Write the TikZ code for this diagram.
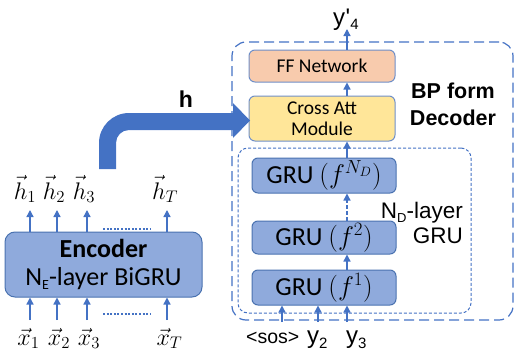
\documentclass[tikz,border=0pt]{standalone}
\usepackage{fix-cm}
\usepackage{fontspec}
\setmainfont{Carlito}
\newfontfamily\arial{Liberation Sans}
\usetikzlibrary{arrows.meta}
\definecolor{lineblue}{HTML}{4472C4}
\definecolor{grufill}{HTML}{8FAADC}
\definecolor{gruborder}{HTML}{4A72B0}
\definecolor{fffill}{HTML}{F8CBAD}
\definecolor{attfill}{HTML}{FFE699}
\definecolor{lightborder}{HTML}{6F8FC8}
\newcommand{\grulbl}[1]{GRU {\fontsize{27}{27}\selectfont$(f^{#1})$}}
\begin{document}
\begin{tikzpicture}[x=1pt,y=-1pt,
  arr/.style={draw=lineblue, line width=1.3pt, -{Triangle[length=7pt,width=7pt]}},
  grubox/.style={draw=gruborder, line width=1pt, fill=grufill, rounded corners=6pt,
     minimum width=144pt, minimum height=35pt, inner sep=0pt,
     font=\fontsize{26}{28}\selectfont},
  topbox/.style={draw=lightborder, line width=1pt, rounded corners=6pt,
     minimum width=146pt, inner sep=0pt, align=center,
     font=\fontsize{19.5}{21}\selectfont},
  mathlbl/.style={inner sep=0pt, font=\fontsize{24}{24}\selectfont},
  arlbl/.style={inner sep=0pt, font=\arial\fontsize{24}{24}\selectfont},
  dotline/.style={draw=lineblue, line width=1.6pt, dash pattern=on 2pt off 1.6pt}]
\useasboundingbox (0,0) rectangle (515,356);

% decoder frames
\node[draw=lineblue, line width=1.2pt, dash pattern=on 10pt off 5pt, rounded corners=14pt,
  minimum width=281pt, minimum height=278pt, inner sep=0pt] (dec) at (372.5,181) {};
\node[draw=lineblue, line width=1pt, dash pattern=on 3pt off 2pt, rounded corners=10pt,
  minimum width=233pt, minimum height=165pt, inner sep=0pt] (grufr) at (354.5,230.5) {};

% decoder boxes
\node[topbox, fill=fffill, minimum height=32pt] (ff) at (322,66) {FF Network};
\node[topbox, fill=attfill, minimum height=45pt] (att) at (322,118.5) {Cross Att\\Module};
\node[grubox] (gruN) at (324,175.5) {\grulbl{N_D}};
\node[grubox, minimum height=33pt] (gru2) at (324,237.5) {\grulbl{2}};
\node[grubox] (gru1) at (324,287.5) {\grulbl{1}};

% decoder texts
\node[align=center, inner sep=0pt, font=\arial\bfseries\fontsize{21.5}{27}\selectfont] (bp) at (453,104) {BP form\\Decoder};
\node[align=right, anchor=east, inner sep=0pt, font=\arial\fontsize{22.5}{25}\selectfont] (ndl) at (463,223)
  {N\raisebox{-4pt}{\fontsize{13}{13}\selectfont D}-layer\\GRU};
\node[arlbl, anchor=base west] (yout) at (333,25) {y\kern0.5pt'\raisebox{-5pt}{\fontsize{15}{15}\selectfont 4}};
\node[inner sep=0pt, anchor=base west, font=\arial\fontsize{19.5}{19.5}\selectfont] (sos) at (246,343) {<sos>};
\node[arlbl, anchor=base west] (y2) at (307,343) {y\raisebox{-5pt}{\fontsize{15}{15}\selectfont 2}};
\node[arlbl, anchor=base west] (y3) at (346,343) {y\raisebox{-5pt}{\fontsize{15}{15}\selectfont 3}};

% decoder arrows
\coordinate (dx) at (347,0);
\coordinate (youtc) at (347,29);
\draw[arr] (gruN.north -| dx) -- (att.south -| dx);
\draw[arr] (att.north -| dx) -- (ff.south -| dx);
\draw[arr] (ff.north -| dx) -- (youtc);
\draw[arr, dash pattern=on 4pt off 2pt] (gru2.north -| dx) -- (gruN.south -| dx);
\draw[arr] (gru1.north -| dx) -- (gru2.south -| dx);
\coordinate (ts) at (282,322);
\coordinate (t2) at (318,322);
\coordinate (t3) at (347,322);
\draw[arr] (ts) -- (ts |- gru1.south);
\draw[arr] (t2) -- (t2 |- gru1.south);
\draw[arr] (t3) -- (t3 |- gru1.south);

% encoder
\node[draw=gruborder, line width=1pt, fill=grufill, rounded corners=10pt,
  minimum width=197pt, minimum height=65pt, inner sep=0pt, align=center,
  font=\fontsize{26}{28}\selectfont] (enc) at (103.5,264.5)
  {\textbf{Encoder}\\N\raisebox{-4pt}{\fontsize{14}{14}\selectfont E}-layer BiGRU};

% encoder outputs
\node[mathlbl, anchor=base] (h1) at (25,199) {$\vec{h}_1$};
\node[mathlbl, anchor=base] (h2) at (54,199) {$\vec{h}_2$};
\node[mathlbl, anchor=base] (h3) at (84,199) {$\vec{h}_3$};
\node[mathlbl, anchor=base] (hT) at (165,199) {$\vec{h}_T$};
\foreach \xx in {30,57,87,167} {
  \coordinate (et) at (\xx,232);
  \draw[arr] (et) -- ++(0,-22);
  \coordinate (eb) at (\xx,320);
  \draw[arr] (eb) -- (eb |- enc.south);
}
\coordinate (d1a) at (103,229); \coordinate (d1b) at (150,229);
\draw[dotline] (d1a) -- (d1b);
\coordinate (d2a) at (103,314); \coordinate (d2b) at (150,314);
\draw[dotline] (d2a) -- (d2b);

% encoder inputs
\node[mathlbl, anchor=base] (x1) at (28.5,345) {$\vec{x}_1$};
\node[mathlbl, anchor=base] (x2) at (59,345) {$\vec{x}_2$};
\node[mathlbl, anchor=base] (x3) at (89,345) {$\vec{x}_3$};
\node[mathlbl, anchor=base] (xT) at (169.5,345) {$\vec{x}_T$};

% big arrow h
\fill[lineblue] (99,169) -- (99,143) arc (180:270:30) -- (233,113) -- (233,103)
  -- (250,120.5) -- (233,138) -- (233,130) -- (129,130) arc (270:180:13) -- (116,169) -- cycle;
\node[inner sep=0pt, anchor=base, font=\arial\bfseries\fontsize{23}{23}\selectfont] (hlbl) at (186,107) {h};
\end{tikzpicture}
\end{document}
